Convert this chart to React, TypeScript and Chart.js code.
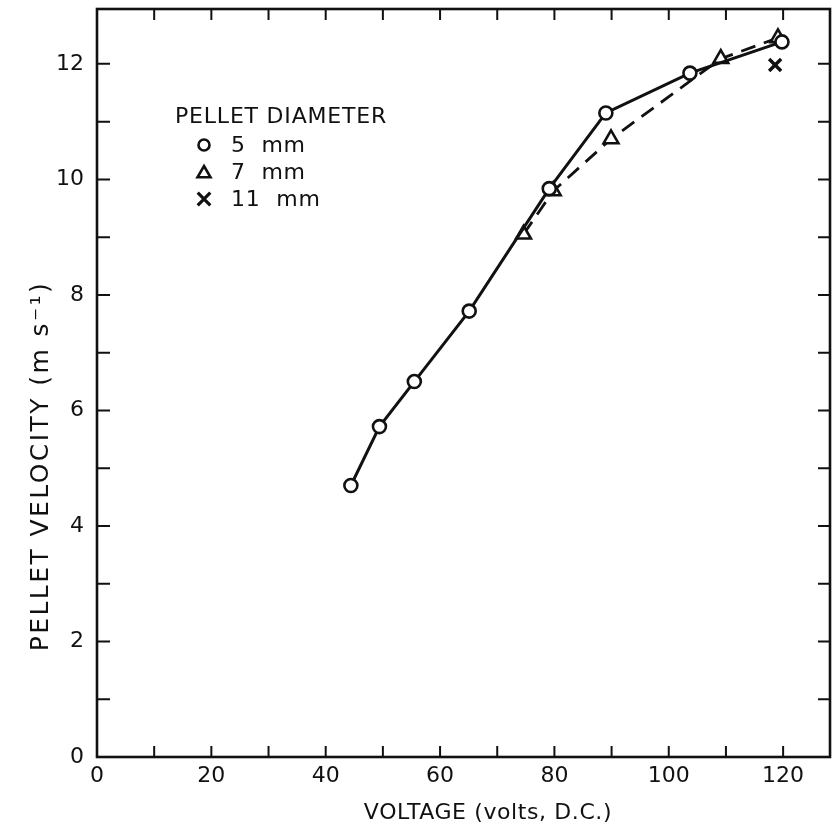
import React, { useEffect, useRef } from 'react';
import { Chart, registerables } from 'chart.js';

Chart.register(...registerables);

// ---- data ----
const voltage5mm = [44.4, 49.4, 55.5, 65.1, 79.1, 89.0, 103.7, 119.8];
const velocity5mm = [4.7, 5.72, 6.5, 7.72, 9.84, 11.15, 11.84, 12.38];
const voltage7mm = [74.6, 79.8, 89.9, 109.1, 119.1];
const velocity7mm = [9.05, 9.8, 10.7, 12.09, 12.45];
const voltage11mm = [118.6];
const velocity11mm = [11.98];

const xTickValues = [0, 10, 20, 30, 40, 50, 60, 70, 80, 90, 100, 110, 120];
const xLabelValues = [0, 20, 40, 60, 80, 100, 120];
const yTickValues = [0, 1, 2, 3, 4, 5, 6, 7, 8, 9, 10, 11, 12];
const yLabelValues = [0, 2, 4, 6, 8, 10, 12];
const xMin = 0;
const xMax = 128.2;
const yMin = 0;
const yMax = 12.95;

const legendTitle = 'PELLET DIAMETER';
const legendLabels = ['5  mm', '7  mm', '11  mm'];
const xTitle = 'VOLTAGE (volts, D.C.)';
const yTitle = 'PELLET VELOCITY (m s\u207B\u00B9)';

const FONT = '"DejaVu Sans", sans-serif';
const INK = '#111';

function drawMarker(ctx: CanvasRenderingContext2D, kind: string, cx: number, cy: number, r: number, lw: number) {
  ctx.save();
  ctx.strokeStyle = INK;
  ctx.fillStyle = '#fff';
  ctx.lineWidth = lw;
  ctx.beginPath();
  if (kind === 'circle') {
    ctx.arc(cx, cy, r, 0, Math.PI * 2);
    ctx.fill();
    ctx.stroke();
  } else if (kind === 'triangle') {
    for (let i = 0; i < 3; i++) {
      const a = -Math.PI / 2 + (i * 2 * Math.PI) / 3;
      const px = cx + Math.cos(a) * r;
      const py = cy + Math.sin(a) * r + r * 0.2;
      if (i === 0) ctx.moveTo(px, py);
      else ctx.lineTo(px, py);
    }
    ctx.closePath();
    ctx.fill();
    ctx.stroke();
  } else {
    const d = r * 0.7;
    ctx.moveTo(cx - d, cy - d);
    ctx.lineTo(cx + d, cy + d);
    ctx.moveTo(cx + d, cy - d);
    ctx.lineTo(cx - d, cy + d);
    ctx.stroke();
  }
  ctx.restore();
}

const framePlugin = {
  id: 'frameTicks',
  afterDraw(chart: any) {
    const { ctx, chartArea } = chart;
    const { left, right, top, bottom } = chartArea;
    const x = chart.scales.x;
    const y = chart.scales.y;
    ctx.save();
    ctx.strokeStyle = INK;
    ctx.lineWidth = 2.6;
    ctx.strokeRect(left, top, right - left, bottom - top);
    ctx.lineWidth = 2;
    ctx.beginPath();
    x.ticks.forEach((t: any) => {
      const px = x.getPixelForValue(t.value);
      if (px <= left + 2 || px >= right - 2) return;
      ctx.moveTo(px, bottom);
      ctx.lineTo(px, bottom - 11);
      ctx.moveTo(px, top);
      ctx.lineTo(px, top + 11);
    });
    y.ticks.forEach((t: any) => {
      const py = y.getPixelForValue(t.value);
      if (py >= bottom - 2 || py <= top + 2) return;
      ctx.moveTo(left, py);
      ctx.lineTo(left + 13, py);
      ctx.moveTo(right, py);
      ctx.lineTo(right - 12, py);
    });
    ctx.stroke();

    // axis titles
    ctx.fillStyle = INK;
    ctx.font = `22px ${FONT}`;
    (ctx as any).letterSpacing = '0.6px';
    ctx.textAlign = 'center';
    ctx.textBaseline = 'alphabetic';
    ctx.fillText(xTitle, 488, 819);

    // y title, stretched to the lettering length of the original
    ctx.save();
    ctx.font = `25px ${FONT}`;
    (ctx as any).letterSpacing = '0px';
    const natural = ctx.measureText(yTitle).width;
    const span = 368;
    const spacing = (span - natural) / (yTitle.length - 1);
    (ctx as any).letterSpacing = `${spacing}px`;
    ctx.translate(48, 466);
    ctx.rotate(-Math.PI / 2);
    ctx.textAlign = 'center';
    ctx.fillText(yTitle, 0, 0);
    ctx.restore();

    // legend
    (ctx as any).letterSpacing = '0.8px';
    ctx.font = `22px ${FONT}`;
    ctx.textAlign = 'left';
    ctx.textBaseline = 'middle';
    ctx.fillText(legendTitle, 175, 117);
    const kinds = ['circle', 'triangle', 'cross'];
    const rowY = [145, 172, 199];
    kinds.forEach((k, i) => {
      const r = k === 'circle' ? 5.5 : k === 'triangle' ? 7.5 : 9;
      drawMarker(ctx, k, 204, rowY[i], r, k === 'cross' ? 3.2 : 2.6);
      ctx.fillText(legendLabels[i], 231, rowY[i] + 1);
    });
    ctx.restore();
  },
};

const zeroPadding = (s: any) => {
  s.paddingTop = 0;
  s.paddingBottom = 0;
  s.paddingLeft = 0;
  s.paddingRight = 0;
};

export default function App() {
  const ref = useRef<HTMLCanvasElement>(null);
  useEffect(() => {
    const canvas = ref.current;
    if (!canvas) return;
    const chart = new Chart(canvas, {
      type: 'scatter',
      data: {
        datasets: [
          {
            label: '5 mm',
            data: voltage5mm.map((v, i) => ({ x: v, y: velocity5mm[i] })),
            showLine: true,
            borderColor: INK,
            borderWidth: 3,
            pointStyle: 'circle',
            pointRadius: 6.5,
            pointBorderWidth: 2.6,
            pointBackgroundColor: '#fff',
            pointBorderColor: INK,
            tension: 0,
          },
          {
            label: '7 mm',
            data: voltage7mm.map((v, i) => ({ x: v, y: velocity7mm[i] })),
            showLine: true,
            borderColor: INK,
            borderWidth: 2.8,
            borderDash: [15, 9],
            pointStyle: 'triangle',
            pointRadius: 8.5,
            pointBorderWidth: 2.6,
            pointBackgroundColor: '#fff',
            pointBorderColor: INK,
            tension: 0,
          },
          {
            label: '11 mm',
            data: voltage11mm.map((v, i) => ({ x: v, y: velocity11mm[i] })),
            showLine: false,
            pointStyle: 'crossRot',
            pointRadius: 8.5,
            pointBorderWidth: 3.4,
            pointBorderColor: INK,
            pointBackgroundColor: INK,
          },
        ],
      },
      options: {
        responsive: false,
        animation: false,
        devicePixelRatio: 1,
        layout: { autoPadding: false, padding: { top: 9, right: 2, left: 0, bottom: 0 } },
        plugins: {
          legend: { display: false },
          tooltip: { enabled: false },
        },
        scales: {
          x: {
            type: 'linear',
            min: xMin,
            max: xMax,
            grid: { display: false, drawTicks: false },
            border: { display: false },
            ticks: {
              autoSkip: false,
              maxRotation: 0,
              padding: 6,
              color: INK,
              font: { family: FONT, size: 22 },
              callback: (v: any) => (xLabelValues.includes(v) ? String(v) : ''),
            },
            afterBuildTicks: (s: any) => {
              s.ticks = xTickValues.map((v) => ({ value: v }));
            },
            afterFit: (s: any) => {
              s.height = 69;
              zeroPadding(s);
            },
          },
          y: {
            type: 'linear',
            min: yMin,
            max: yMax,
            grid: { display: false, drawTicks: false },
            border: { display: false },
            ticks: {
              autoSkip: false,
              padding: 13,
              color: INK,
              font: { family: FONT, size: 22 },
              callback: (v: any) => (yLabelValues.includes(v) ? String(v) : ''),
            },
            afterBuildTicks: (s: any) => {
              s.ticks = yTickValues.map((v) => ({ value: v }));
            },
            afterFit: (s: any) => {
              s.width = 97;
              zeroPadding(s);
            },
          },
        },
      },
      plugins: [framePlugin],
    });
    return () => chart.destroy();
  }, []);
  return (
    <div style={{ position: 'absolute', left: 0, top: 0, width: 832, height: 826, background: '#fff' }}>
      <canvas ref={ref} width={832} height={826} style={{ display: 'block' }} />
    </div>
  );
}
